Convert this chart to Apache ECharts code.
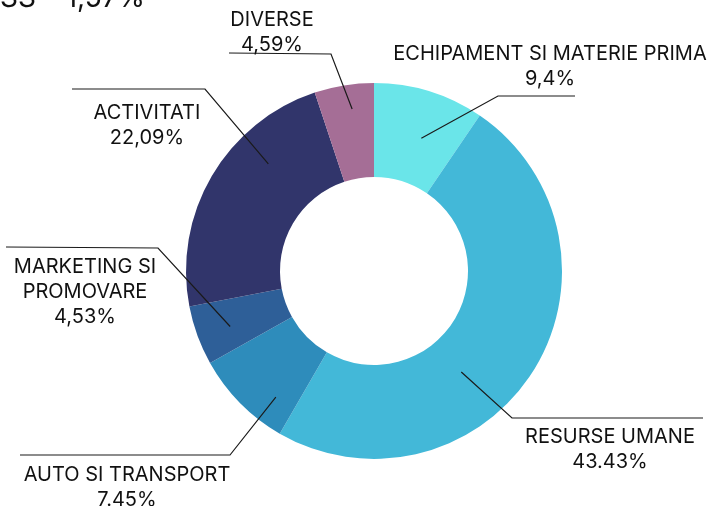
<!DOCTYPE html>
<html>
<head>
<meta charset="utf-8">
<script src="https://cdn.jsdelivr.net/npm/echarts@6/dist/echarts.min.js"></script>
<style>
  html, body { margin: 0; padding: 0; background: #fff; }
  #main { width: 713px; height: 506px; }
</style>
</head>
<body>
<div id="main"></div>
<script>
// date grafic
const categorii = ['ECHIPAMENT SI MATERIE PRIMA', 'RESURSE UMANE', 'AUTO SI TRANSPORT',
  'MARKETING SI\nPROMOVARE', 'ACTIVITATI', 'DIVERSE'];
// marimea feliilor (%)
const ponderi = [9.5, 48.8, 8.5, 5.1, 22.9, 5.1];
// textul afisat in etichete
const etichete = ['9,4%', '43.43%', '7.45%', '4,53%', '22,09%', '4,59%'];
const culori = ['#6ae5e9', '#43b8d8', '#2e8cbb', '#2e5f98', '#31356b', '#a56e96'];

// pozitii etichete si linii (layout)
const cx = 374, cy = 271, rInner = 94, rOuter = 188;
const labelPos = [[550, 66], [610, 449], [127, 487], [85, 292], [147, 125], [272, 32]];
const cot = [[498, 96], [512, 418], [230, 455], [158, 248], [205, 89], [331, 54]];
const capat = [[575, 96], [703, 418], [20, 455], [6, 247], [72, 89], [229, 53]];
const deviere = [2.5, 17, -7.5, -1, 15, 1.5];   // grade fata de mijlocul feliei
const rStart = [0.75, 0.71, 0.85, 0.82, 0.8, 0.87];

const total = ponderi.reduce((a, b) => a + b, 0);
const mijloc = [];
let acc = 0;
ponderi.forEach(v => { mijloc.push((acc + v / 2) / total * 360); acc += v; });

const dateSerie = categorii.map((c, i) => ({
  name: c, value: ponderi[i], itemStyle: { color: culori[i] }
}));

const chart = echarts.init(document.getElementById('main'));
chart.setOption({
  animation: false,
  graphic: [{
    type: 'text', left: 0, top: -15,
    style: { text: 'SS – 1,57%', font: '28px Inter', fill: '#111' }
  }],
  series: [{
    type: 'pie',
    z: 2,
    center: [cx, cy],
    radius: [rInner, rOuter],
    startAngle: 90,
    silent: true,
    label: { show: false },
    labelLine: { show: false },
    data: dateSerie
  }, {
    // serie transparenta doar pentru etichete, ca liniile sa fie deasupra
    type: 'pie',
    z: 6,
    center: [cx, cy],
    radius: [rInner, rOuter],
    startAngle: 90,
    silent: true,
    itemStyle: { color: 'rgba(0,0,0,0)' },
    data: categorii.map((c, i) => ({ name: c, value: ponderi[i] })),
    label: {
      show: true,
      formatter: p => p.name + '\n' + etichete[p.dataIndex],
      fontFamily: 'Inter',
      fontSize: 20,
      lineHeight: 25,
      color: '#111',
      align: 'center',
      overflow: 'none'
    },
    labelLine: { show: true, lineStyle: { color: '#1a1a1a', width: 1.2 } },
    labelLayout: p => {
      const i = p.dataIndex;
      const a = (mijloc[i] + deviere[i]) * Math.PI / 180;
      const r = rOuter * rStart[i];
      const start = [cx + r * Math.sin(a), cy - r * Math.cos(a)];
      return {
        x: labelPos[i][0], y: labelPos[i][1],
        align: 'center', verticalAlign: 'middle',
        labelLinePoints: [start, cot[i], capat[i]]
      };
    }
  }]
});
</script>
</body>
</html>
